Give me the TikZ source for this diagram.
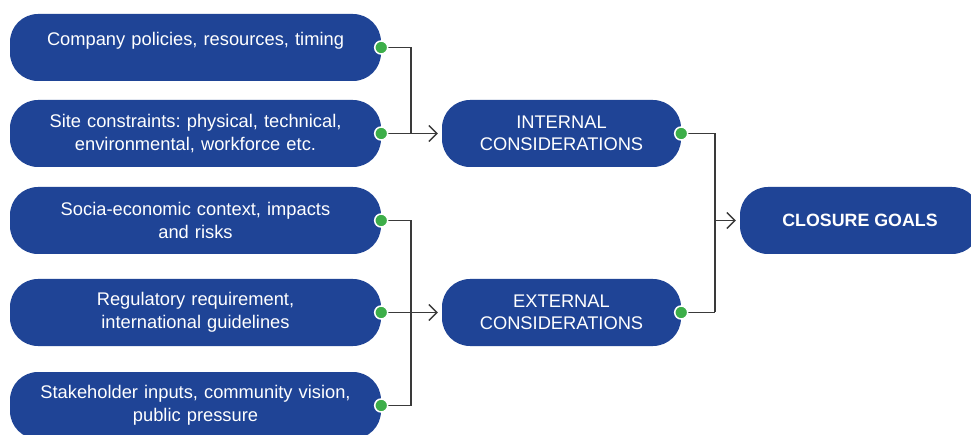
\documentclass[tikz,border=0pt]{standalone}
\usepackage{fontspec}
\setmainfont{Liberation Sans}
\usetikzlibrary{arrows.meta}
\definecolor{boxblue}{HTML}{1F4496}
\definecolor{dotgreen}{HTML}{3DAE49}
\definecolor{linegray}{HTML}{3A3A3A}
\frenchspacing
\begin{document}
\begin{tikzpicture}[x=1pt,y=-1pt,
  box/.style={fill=boxblue, draw=none, rounded corners=28pt, minimum height=67pt, inner sep=0pt,
    text=white, align=center, font=\fontsize{18.3}{22.5}\selectfont},
  leftbox/.style={box, minimum width=371pt, text width=350pt},
  midbox/.style={box, minimum width=239pt, text width=225pt},
  dot/.style={circle, fill=dotgreen, draw=white, line width=1.5pt, minimum size=13pt, inner sep=0pt},
  conn/.style={draw=linegray, line width=1.3pt},
  arr/.style={conn, -{Straight Barb[length=8pt,width=16pt,line width=1.3pt]}, shorten >=4pt}
]
\clip (0,0) rectangle (971,435);
\fill[white] (0,0) rectangle (971,435);

\node[leftbox] (b1) at (195.5,47.5) {Company policies, resources, timing\\[-6pt]\mbox{}};
\node[leftbox] (b2) at (195.5,133.5) {Site constraints: physical, technical,\\environmental, workforce etc.};
\node[leftbox] (b3) at (195.5,220.5) {Socia-economic context, impacts\\and risks};
\node[leftbox] (b4) at (195.5,312.5) {Regulatory requirement,\\international guidelines};
\node[leftbox] (b5) at (195.5,405.5) {Stakeholder inputs, community vision,\\public pressure};

\node[midbox] (int) at (561.5,133.5) {INTERNAL\\CONSIDERATIONS};
\node[midbox] (ext) at (561.5,312.5) {EXTERNAL\\CONSIDERATIONS};
\node[box, minimum width=240pt, font=\fontsize{17.8}{22}\selectfont\bfseries] (cl) at (860,220.5) {CLOSURE GOALS};

\coordinate (j1) at (411,133.5);
\coordinate (j2) at (411,405.5);
\coordinate (j3) at (715,312.5);
\coordinate (j4) at (715,220.5);

\draw[conn] (b1.east) -| (j1);
\draw[arr] (b2.east) -- (int.west);
\draw[conn] (b3.east) -| (j2);
\draw[conn] (b5.east) -- (j2);
\draw[arr] (b4.east) -- (ext.west);
\draw[conn] (int.east) -| (j3);
\draw[conn] (ext.east) -- (j3);
\draw[arr] (j4) -- (cl.west);

\node[dot] (d1) at (b1.east) {};
\node[dot] (d2) at (b2.east) {};
\node[dot] (d3) at (b3.east) {};
\node[dot] (d4) at (b4.east) {};
\node[dot] (d5) at (b5.east) {};
\node[dot] (di) at (int.east) {};
\node[dot] (de) at (ext.east) {};
\end{tikzpicture}
\end{document}
